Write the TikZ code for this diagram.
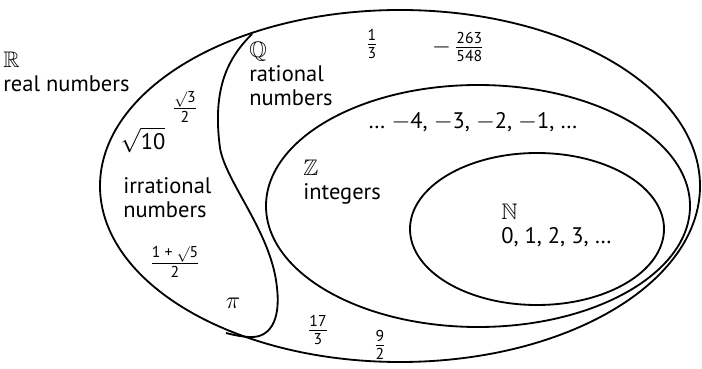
\documentclass[tikz,border=0pt]{standalone}
\usepackage{amsmath,amssymb}
\usepackage{fontspec}
\setmainfont{PT Sans}
\newcommand\fr[2]{$\frac{\text{#1}}{\text{#2}}$}
\newcommand\mns{$-$}
\tikzset{
  setline/.style={line width=1.3pt},
  lbl/.style={font=\fontsize{16}{17}\selectfont, align=left, inner sep=0pt},
  num/.style={font=\fontsize{16}{17}\selectfont, inner sep=0pt}
}
\begin{document}
\begin{tikzpicture}[x=0.025cm,y=0.025cm]
    \useasboundingbox (0,0) rectangle (702,368);
    % sets
    \draw[setline] (400,182) ellipse [x radius=300, y radius=176];
    \draw[setline] (478,162) ellipse [x radius=212, y radius=121];
    \draw[setline] (537,139) ellipse [x radius=127, y radius=76];
    % border between irrational and rational
    \coordinate (qtop) at (252,334);
    \coordinate (qbot) at (226,35);
    \draw[setline] (qtop) .. controls (228,310) and (212,280) .. (220,220)
      .. controls (226,185) and (272,135) .. (277,80)
      .. controls (281,45) and (268,31) .. (252,31)
      .. controls (242,31) and (234,33) .. (qbot);
    % labels
    \node[lbl, anchor=west] (reals) at (3,296) {$\mathbb{R}$\\real numbers};
    \node[lbl, anchor=west] (rats) at (249,294) {$\mathbb{Q}$\\rational\\numbers};
    \node[lbl, anchor=west] (irrs) at (123,170) {irrational\\numbers};
    \node[lbl, anchor=west] (ints) at (303,186) {$\mathbb{Z}$\\integers};
    \node[lbl, anchor=west] (nats) at (501,143) {$\mathbb{N}$\\0, 1, 2, 3, …};
    \node[num] (negs) at (473,246) {… \mns4, \mns3, \mns2, \mns1, …};
    % sample numbers
    \node[num] (third) at (372,324) {\fr{1}{3}};
    \node[num] (frneg) at (458,321) {\mns\,\fr{263}{548}};
    \node[num] (rtthree) at (185,261) {$\frac{\surd\text{3}}{\text{2}}$};
    \node[num] (rtten) at (143,228) {$\sqrt{\text{10}}$};
    \node[num] (phi) at (175,106) {$\frac{\text{1 + }\surd\text{5}}{\text{2}}$};
    \node[num] (pi) at (233,65) {$\pi$};
    \node[num] (seventeen) at (318,38) {\fr{17}{3}};
    \node[num] (ninehalf) at (380,23) {\fr{9}{2}};
\end{tikzpicture}
\end{document}
